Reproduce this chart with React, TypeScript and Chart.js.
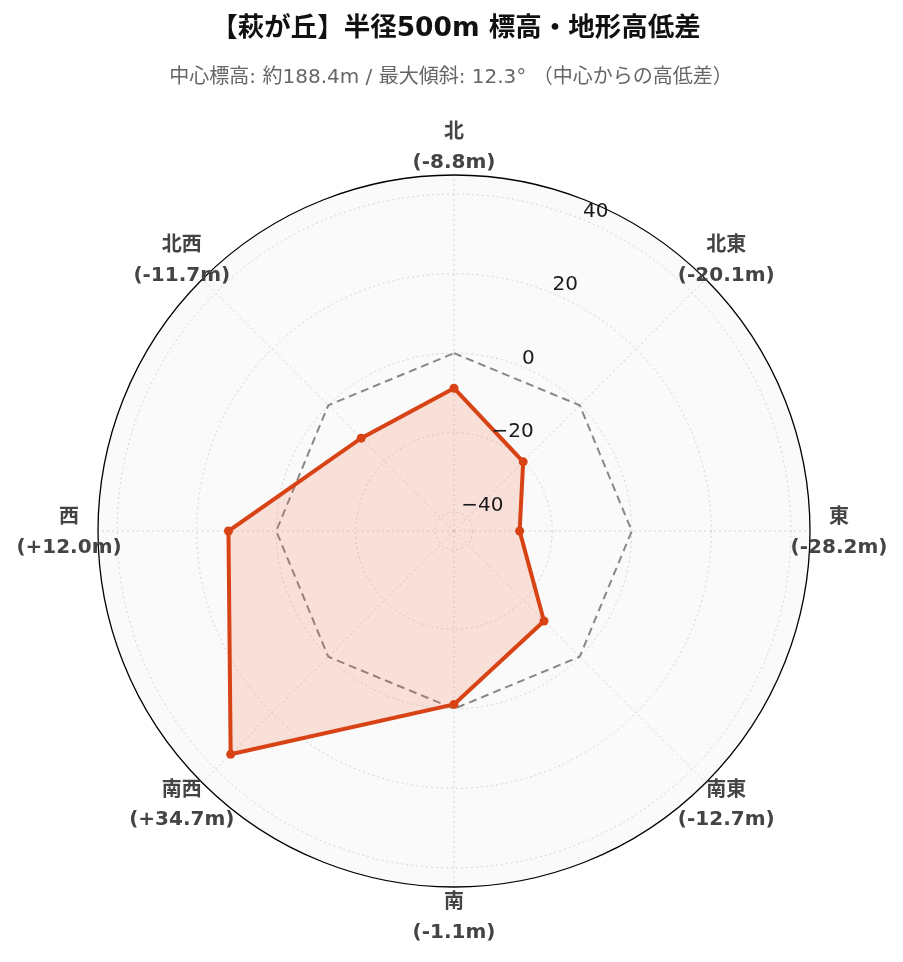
import React, { useEffect, useRef } from "react";
import { Chart, registerables } from "chart.js";

Chart.register(...registerables);

const directions = ["北", "北東", "東", "南東", "南", "南西", "西", "北西"];
const elevationDiffs = [-8.8, -20.1, -28.2, -12.7, -1.1, 34.7, 12.0, -11.7];
const zeroReference = [0, 0, 0, 0, 0, 0, 0, 0];
const radialTicks = [-40, -20, 0, 20, 40];
const radialMin = -44.7;
const radialMax = 44.8;
const titleText = "【萩が丘】半径500m 標高・地形高低差";
const subtitleText = "中心標高: 約188.4m / 最大傾斜: 12.3° （中心からの高低差）";

const FONT = '"DejaVu Sans", "Noto Sans CJK JP", sans-serif';

const fmtDiff = (v: number) => `(${v > 0 ? "+" : "-"}${Math.abs(v).toFixed(1)}m)`;
const pointLabels = directions.map((d, i) => [d, fmtDiff(elevationDiffs[i])]);
const fmtTick = (v: number) => (v < 0 ? "\u2212" + Math.abs(v) : String(v));

const decorPlugin = {
  id: "decor",
  beforeDraw(chart: any) {
    const ctx = chart.ctx;
    const s = chart.scales.r;
    ctx.save();
    ctx.fillStyle = "#ffffff";
    ctx.fillRect(0, 0, chart.width, chart.height);
    ctx.beginPath();
    ctx.arc(s.xCenter, s.yCenter, s.drawingArea, 0, Math.PI * 2);
    ctx.fillStyle = "#fafafa";
    ctx.fill();
    ctx.textAlign = "center";
    ctx.textBaseline = "middle";
    ctx.fillStyle = "#111111";
    ctx.font = `bold 26.5px ${FONT}`;
    ctx.fillText(titleText, 456, 29);
    ctx.fillStyle = "#666666";
    ctx.font = `20px ${FONT}`;
    ctx.fillText(subtitleText, 451, 78);
    ctx.restore();
  },
  beforeDatasetsDraw(chart: any) {
    const ctx = chart.ctx;
    const s = chart.scales.r;
    ctx.save();
    ctx.beginPath();
    ctx.arc(s.xCenter, s.yCenter, s.drawingArea, 0, Math.PI * 2);
    ctx.strokeStyle = "#000000";
    ctx.lineWidth = 1.3;
    ctx.stroke();
    ctx.restore();
  },
  afterDatasetsDraw(chart: any) {
    const ctx = chart.ctx;
    const s = chart.scales.r;
    ctx.save();
    // radial tick labels along an axis at 22.5° from north
    const ang = (22.5 * Math.PI) / 180;
    ctx.font = `20px ${FONT}`;
    ctx.fillStyle = "#1a1a1a";
    ctx.textAlign = "left";
    ctx.textBaseline = "alphabetic";
    radialTicks.forEach((v) => {
      const r = s.getDistanceFromCenterForValue(v);
      const x = s.xCenter + r * Math.sin(ang);
      const y = s.yCenter - r * Math.cos(ang);
      ctx.fillText(fmtTick(v), x, y - 3);
    });
    // point labels
    ctx.font = `bold 20px ${FONT}`;
    ctx.fillStyle = "#444444";
    ctx.textAlign = "center";
    ctx.textBaseline = "middle";
    const labels = chart.data.labels as string[][];
    labels.forEach((lines, i) => {
      const p = s.getPointPosition(i, s.drawingArea + 29);
      const lh = 29.5;
      const y0 = p.y + 2 - ((lines.length - 1) * lh) / 2;
      lines.forEach((t, j) => ctx.fillText(t, p.x, y0 + j * lh));
    });
    ctx.restore();
  },
};

export default function App() {
  const ref = useRef<HTMLCanvasElement | null>(null);
  useEffect(() => {
    document.body.style.margin = "0";
    if (!ref.current) return;
    const chart = new Chart(ref.current, {
      type: "radar",
      data: {
        labels: pointLabels,
        datasets: [
          {
            label: "高低差",
            data: elevationDiffs,
            borderColor: "#d84315",
            backgroundColor: "rgba(245,85,45,0.16)",
            fill: "start",
            borderWidth: 4,
            pointRadius: 4.5,
            pointBackgroundColor: "#d84315",
            pointBorderColor: "#d84315",
            pointBorderWidth: 0,
            tension: 0,
          },
          {
            label: "中心標高",
            data: zeroReference,
            borderColor: "#888888",
            borderDash: [8, 5],
            borderWidth: 2,
            pointRadius: 0,
            fill: false,
            tension: 0,
          },
        ],
      },
      options: {
        responsive: false,
        animation: false,
        layout: { padding: { left: 98, right: 93, top: 175, bottom: 75 } },
        plugins: {
          legend: { display: false },
          title: { display: false },
          tooltip: { enabled: false },
          filler: { propagate: false },
        },
        scales: {
          r: {
            min: radialMin,
            max: radialMax,
            beginAtZero: false,
            afterBuildTicks: (scale: any) => {
              scale.ticks = radialTicks.map((v) => ({ value: v }));
            },
            ticks: { display: false },
            pointLabels: { display: false },
            grid: { circular: true, color: "#d4d4d4", lineWidth: 1 },
            border: { dash: [2, 3] },
            angleLines: { display: true, color: "#d4d4d4", lineWidth: 1, borderDash: [2, 3] },
          },
        },
      } as any,
      plugins: [decorPlugin],
    });
    return () => chart.destroy();
  }, []);
  return (
    <div style={{ width: 903, height: 962 }}>
      <canvas ref={ref} width={903} height={962} style={{ display: "block" }} />
    </div>
  );
}
